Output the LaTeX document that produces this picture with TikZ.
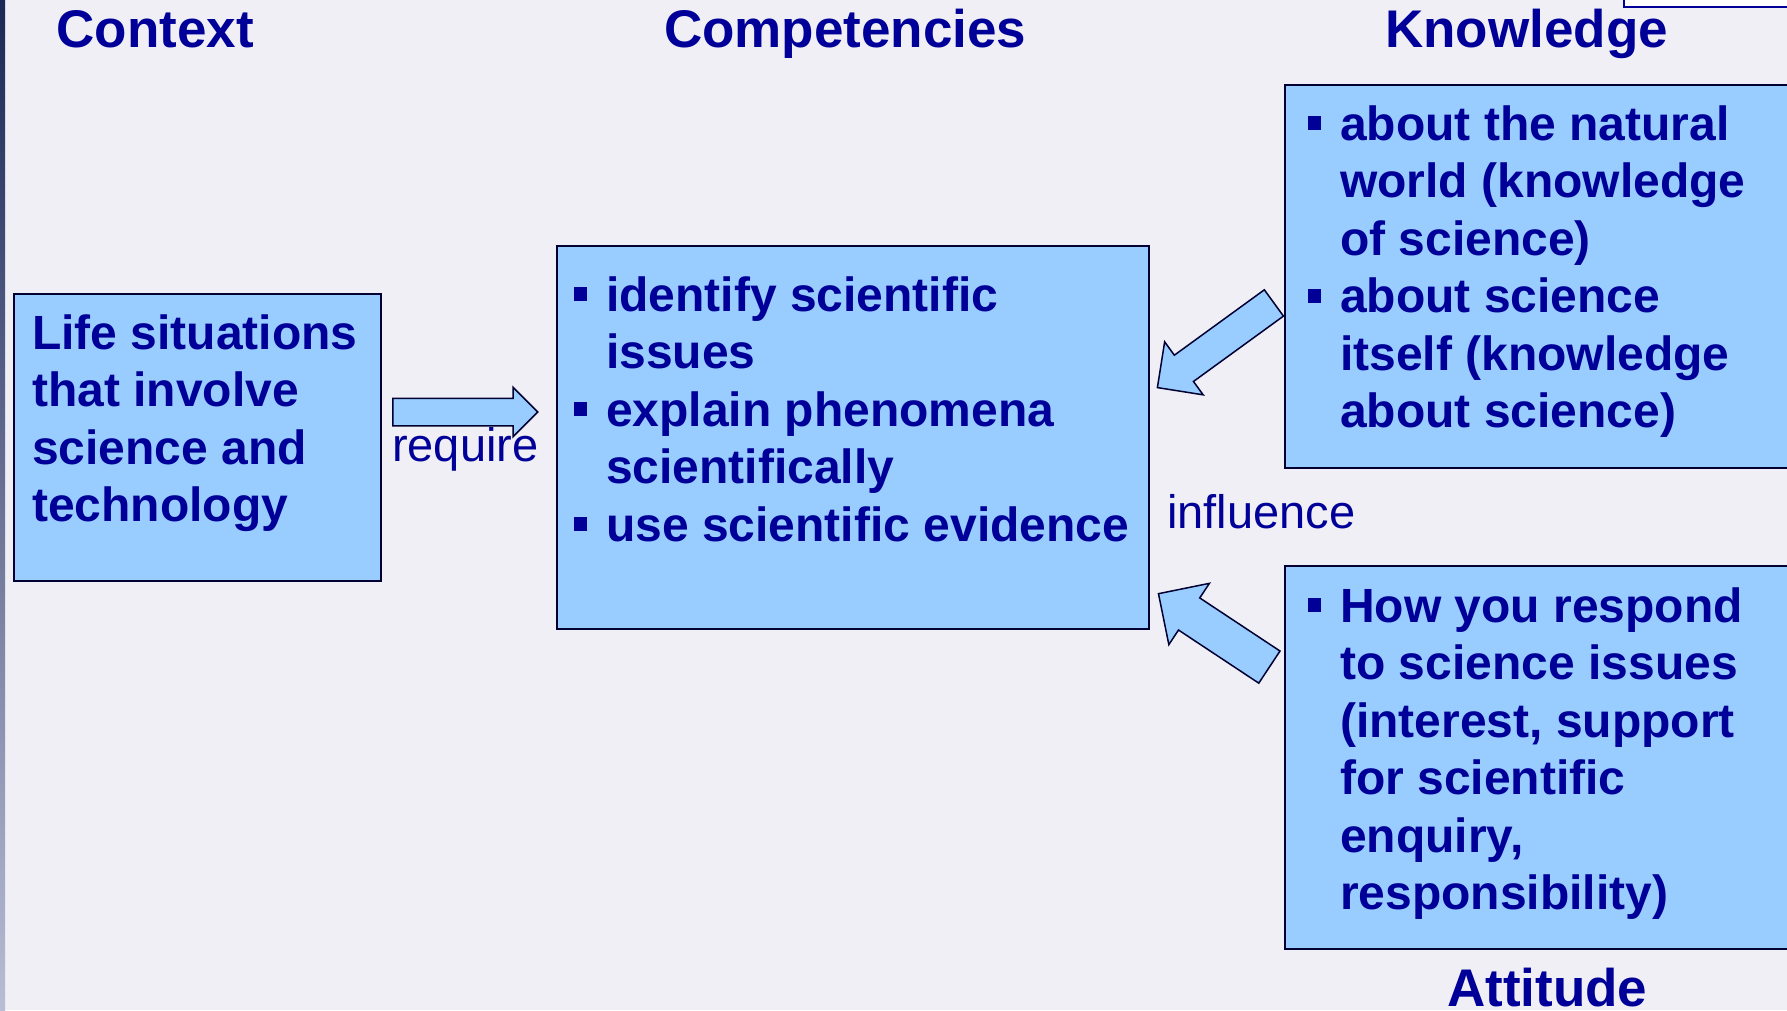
\documentclass[tikz,border=0pt]{standalone}
\usepackage{fontspec}
\setmainfont{Liberation Sans}
\usetikzlibrary{shapes.arrows}

\definecolor{slidebg}{HTML}{EFEFF5}
\definecolor{boxblue}{HTML}{99CCFF}
\definecolor{textblue}{HTML}{000099}
\definecolor{edgedark}{HTML}{000033}
\definecolor{stripdark}{HTML}{1B2756}
\definecolor{striplight}{HTML}{B9BDD5}

\newcommand{\sqbullet}{\makebox[32pt][l]{\rule[10pt]{13pt}{14pt}}}
\newcommand{\itemgap}{\hspace*{32pt}}

\tikzset{
  box/.style={rectangle, draw=edgedark, line width=2pt, fill=boxblue, inner sep=0pt, anchor=north west},
  boxtext/.style={anchor=base west, align=left, inner sep=0pt, text=textblue,
    font=\fontsize{48}{57.5}\selectfont\bfseries},
  heading/.style={anchor=base west, inner sep=0pt, text=textblue,
    font=\fontsize{53}{60}\selectfont\bfseries},
  linkword/.style={anchor=base west, inner sep=0pt, text=textblue,
    font=\fontsize{47}{55}\selectfont},
  blockarrow/.style={single arrow, draw=edgedark, line width=1.5pt, fill=boxblue,
    anchor=tail, inner xsep=0pt, single arrow tip angle=90}
}

\begin{document}
\begin{tikzpicture}[x=1pt,y=-1pt]
\useasboundingbox (0,0) rectangle (1787,1010);
\clip (0,0) rectangle (1787,1010);
\fill[slidebg] (0,0) rectangle (1787,1010);
\shade[top color=stripdark, bottom color=striplight] (0,0) rectangle (5,1010);
\node[rectangle, draw=textblue, fill=white, line width=1.5pt, anchor=north west,
  minimum width=200pt, minimum height=30pt] (corner) at (1623,-24) {};

\node[heading] (ctxtitle) at (56.5,47) {Context};
\node[heading] (comptitle) at (664,47) {Competencies};
\node[heading] (knowtitle) at (1385,47) {Knowledge};
\node[heading] (atttitle) at (1447,1006) {Attitude};

\node[box, minimum width=367pt, minimum height=287pt] (ctx) at (12.5,293) {};
\node[box, minimum width=592pt, minimum height=383pt] (comp) at (556,245) {};
\node[box, minimum width=520pt, minimum height=383pt] (know) at (1284,84) {};
\node[box, minimum width=520pt, minimum height=383pt] (att) at (1284,565) {};

% base anchor sits on the last line
\node[boxtext] (ctxtext) at (32,521.5) {Life situations\\that involve\\science and\\technology};
\node[boxtext] (comptext) at (574,541) {\sqbullet identify scientific\\\itemgap issues\\
  \sqbullet explain phenomena\\\itemgap scientifically\\\sqbullet use scientific evidence};
\node[boxtext] (knowtext) at (1308,427.5) {\sqbullet about the natural\\\itemgap world (knowledge\\
  \itemgap of science)\\\sqbullet about science\\\itemgap itself (knowledge\\\itemgap about science)};
\node[boxtext] (atttext) at (1308,909.5) {\sqbullet How you respond\\\itemgap to science issues\\
  \itemgap (interest, support\\\itemgap for scientific\\\itemgap enquiry,\\\itemgap responsibility)};

\node[blockarrow, minimum height=145pt, minimum width=48pt, inner ysep=13pt,
  single arrow head extend=11pt] (reqarrow) at (392,412) {};
\node[blockarrow, rotate=216, minimum height=144pt, minimum width=64pt, inner ysep=15.5pt,
  single arrow head extend=16.5pt] (knowarrow) at (1274.5,302.5) {};
\node[blockarrow, rotate=146.5, minimum height=133pt, minimum width=72pt, inner ysep=18.5pt,
  single arrow head extend=17.5pt] (attarrow) at (1270,667.5) {};

\node[linkword] (req) at (392,461) {require};
\node[linkword] (infl) at (1167,528) {influence};
\end{tikzpicture}
\end{document}
